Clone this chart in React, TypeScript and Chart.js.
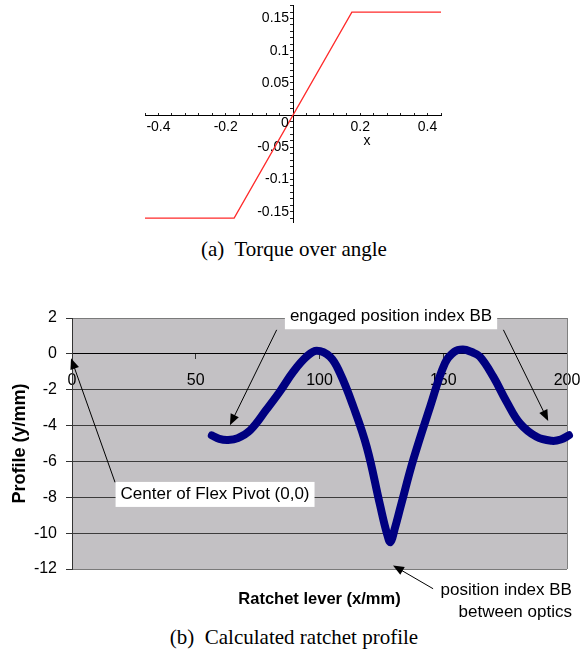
import React, { useEffect, useRef } from 'react';
import { Chart, registerables } from 'chart.js';

Chart.register(...registerables);

// ---------- (a) Torque over angle ----------
const torqueAngle = [-0.44, -0.175, 0.175, 0.44];
const torqueValue = [-0.16, -0.16, 0.16, 0.16];

// ---------- (b) Calculated ratchet profile ----------
const profileX = [56.5, 59.5, 63, 67, 72, 78.6, 84, 89.4, 94.8, 98.9, 104.2, 108.3, 113.7, 119.1, 124.4, 127.2, 128.7, 130.3, 133, 137.9, 144.7, 150.7, 154.5, 158, 161.5, 164.8, 170.2, 175.6, 181, 187.7, 193.8, 197.5, 200.8];
const profileY = [-4.55, -4.74, -4.8, -4.7, -4.26, -3.1, -2.1, -1.0, -0.15, 0.18, -0.15, -1.08, -2.95, -5.2, -8.4, -10.0, -10.5, -9.8, -8.4, -5.9, -2.95, -0.52, 0.12, 0.24, 0.1, -0.15, -1.27, -2.67, -3.88, -4.63, -4.85, -4.78, -4.54];

const annotationLabels = [
  { lines: ['engaged position index BB'], x: 128.9, y: 2.07, box: true, align: 'center' },
  { lines: ['Center of Flex Pivot (0,0)'], x: 57.8, y: -7.84, box: true, align: 'center' },
  { lines: ['position index BB', 'between optics'], x: 202.0, y: -13.17, box: false, align: 'right' },
];
const annotationArrows = [
  { from: [82.7, 1.34], to: [63.8, -3.98] },
  { from: [174.3, 1.34], to: [192.4, -3.74] },
  { from: [17.4, -7.17], to: [-0.4, -0.24] },
  { from: [145.9, -13.1], to: [129.7, -11.8] },
];

const SANS = '"Liberation Sans", Arial, Helvetica, sans-serif';
const SERIF = '"Liberation Serif", "Times New Roman", serif';
const PLOT_BG = '#c3c1c4';

Chart.defaults.font.family = SANS;

const zeroPad = (s: any) => {
  s.paddingTop = 0;
  s.paddingBottom = 0;
  s.paddingLeft = 0;
  s.paddingRight = 0;
};

const fmt = (v: number) => String(Math.round(v * 100) / 100);

const torqueExtras = {
  id: 'torqueExtras',
  afterDraw(chart: any) {
    const { ctx, scales } = chart;
    const x = scales.x;
    const y = scales.y;
    const ox = x.getPixelForValue(0);
    const oy = y.getPixelForValue(0);
    ctx.save();
    ctx.fillStyle = '#000';
    ctx.font = `14px ${SANS}`;
    ctx.textAlign = 'center';
    ctx.textBaseline = 'middle';
    ctx.fillText('0', ox - 8, oy + 8);
    ctx.fillText('x', x.getPixelForValue(0.22), oy + 26);
    ctx.restore();
  },
};

function drawArrow(ctx: CanvasRenderingContext2D, x1: number, y1: number, x2: number, y2: number) {
  const ang = Math.atan2(y2 - y1, x2 - x1);
  const L = 11;
  const W = 4.5;
  const c = Math.cos(ang);
  const s = Math.sin(ang);
  ctx.beginPath();
  ctx.moveTo(x1, y1);
  ctx.lineTo(x2 - c * 6, y2 - s * 6);
  ctx.stroke();
  ctx.beginPath();
  ctx.moveTo(x2, y2);
  ctx.lineTo(x2 - L * c + W * s, y2 - L * s - W * c);
  ctx.lineTo(x2 - L * c - W * s, y2 - L * s + W * c);
  ctx.closePath();
  ctx.fill();
}

const profileExtras = {
  id: 'profileExtras',
  beforeDraw(chart: any) {
    const { ctx, chartArea: a } = chart;
    ctx.save();
    ctx.fillStyle = PLOT_BG;
    ctx.fillRect(a.left, a.top, a.right - a.left, a.bottom - a.top);
    ctx.restore();
  },
  beforeDatasetsDraw(chart: any) {
    const { ctx, chartArea: a } = chart;
    ctx.save();
    ctx.strokeStyle = '#808080';
    ctx.lineWidth = 1;
    ctx.beginPath();
    ctx.moveTo(Math.round(a.right) + 0.5, a.top);
    ctx.lineTo(Math.round(a.right) + 0.5, a.bottom);
    ctx.stroke();
    ctx.restore();
  },
  afterDraw(chart: any) {
    const { ctx, chartArea: a, scales } = chart;
    const x = scales.x;
    const y = scales.y;
    ctx.save();
    // x axis title
    ctx.fillStyle = '#000';
    ctx.font = `bold 16.5px ${SANS}`;
    ctx.textAlign = 'center';
    ctx.textBaseline = 'middle';
    ctx.fillText('Ratchet lever (x/mm)', (a.left + a.right) / 2, y.getPixelForValue(0) + 246);

    // arrows
    ctx.strokeStyle = '#000';
    ctx.fillStyle = '#000';
    ctx.lineWidth = 1;
    annotationArrows.forEach((ar) => {
      drawArrow(
        ctx,
        x.getPixelForValue(ar.from[0]),
        y.getPixelForValue(ar.from[1]),
        x.getPixelForValue(ar.to[0]),
        y.getPixelForValue(ar.to[1])
      );
    });

    // labels
    ctx.font = `17px ${SANS}`;
    ctx.textBaseline = 'middle';
    annotationLabels.forEach((lb) => {
      const px = x.getPixelForValue(lb.x);
      const py = y.getPixelForValue(lb.y);
      const lh = 22;
      ctx.textAlign = lb.align as CanvasTextAlign;
      if (lb.box) {
        const w = Math.max(...lb.lines.map((t) => ctx.measureText(t).width)) + 10;
        const h = lb.lines.length * lh + 3;
        ctx.fillStyle = '#fff';
        const left = lb.align === 'center' ? px - w / 2 : px - w + 5;
        ctx.fillRect(left, py - 12.5, w, h);
      }
      ctx.fillStyle = '#000';
      lb.lines.forEach((t, i) => ctx.fillText(t, px, py + i * lh));
    });
    ctx.restore();
  },
};

export default function App() {
  const topRef = useRef<HTMLCanvasElement>(null);
  const botRef = useRef<HTMLCanvasElement>(null);

  useEffect(() => {
    const top = new Chart(topRef.current as HTMLCanvasElement, {
      type: 'line',
      data: {
        datasets: [
          {
            data: torqueAngle.map((a, i) => ({ x: a, y: torqueValue[i] })),
            borderColor: '#ff2a2a',
            borderWidth: 1.3,
            pointRadius: 0,
            tension: 0,
            fill: false,
          },
        ],
      },
      options: {
        animation: false,
        responsive: false,
        devicePixelRatio: 1,
        layout: { padding: { left: 15, right: 19, top: 5, bottom: 13 } },
        plugins: { legend: { display: false }, tooltip: { enabled: false } },
        scales: {
          x: {
            type: 'linear',
            min: -0.44,
            max: 0.44,
            position: { y: 0 },
            afterFit: zeroPad,
            border: { display: true, color: '#000', width: 1 },
            grid: { drawOnChartArea: false, drawTicks: true, tickLength: -3, tickColor: '#222' },
            ticks: {
              stepSize: 0.04,
              autoSkip: false,
              maxRotation: 0,
              includeBounds: false,
              padding: 7,
              color: '#000',
              font: { size: 14 },
              callback: (v: any) => {
                const k = Math.round(Number(v) * 100);
                return k % 20 === 0 && k !== 0 ? fmt(Number(v)) : '';
              },
            },
          },
          y: {
            type: 'linear',
            min: -0.166,
            max: 0.171,
            position: { x: 0 },
            afterFit: zeroPad,
            border: { display: true, color: '#000', width: 1 },
            grid: { drawOnChartArea: false, drawTicks: true, tickLength: 3, tickColor: '#222' },
            ticks: {
              stepSize: 0.01,
              autoSkip: false,
              includeBounds: false,
              padding: 1,
              color: '#000',
              font: { size: 14 },
              callback: (v: any) => {
                const k = Math.round(Number(v) * 100);
                return k % 5 === 0 && k !== 0 ? fmt(Number(v)) + ' ' : '';
              },
            },
          },
        },
      } as any,
      plugins: [torqueExtras],
    } as any);

    const bottom = new Chart(botRef.current as HTMLCanvasElement, {
      type: 'line',
      data: {
        datasets: [
          {
            data: profileX.map((px, i) => ({ x: px, y: profileY[i] })),
            borderColor: '#000080',
            borderWidth: 8,
            pointRadius: 0,
            tension: 0.4,
            borderCapStyle: 'round',
            borderJoinStyle: 'round',
            fill: false,
            clip: false,
          },
        ],
      },
      options: {
        animation: false,
        responsive: false,
        devicePixelRatio: 1,
        layout: { padding: { left: 0, right: 15, top: 23, bottom: 56 } },
        plugins: { legend: { display: false }, tooltip: { enabled: false } },
        scales: {
          x: {
            type: 'linear',
            min: 0,
            max: 200,
            position: { y: 0 },
            afterFit: zeroPad,
            border: { display: true, color: '#000', width: 1 },
            grid: { drawOnChartArea: false, drawTicks: true, tickLength: 5, tickColor: '#333' },
            ticks: {
              stepSize: 50,
              autoSkip: false,
              maxRotation: 0,
              padding: 12,
              color: '#000',
              font: { size: 16 },
            },
          },
          y: {
            type: 'linear',
            min: -12,
            max: 2,
            position: 'left',
            afterFit: (s: any) => {
              s.width = 72;
            },
            border: { display: true, color: '#333', width: 1 },
            grid: {
              color: (c: any) => (c.tick && (c.tick.value === 2 || c.tick.value === -12) ? '#7a7a7a' : '#3c3c3c'),
              tickColor: '#333',
              drawTicks: true,
              tickLength: 6,
              lineWidth: 1,
            },
            ticks: {
              stepSize: 2,
              padding: 9,
              color: '#000',
              font: { size: 16 },
            },
            title: {
              display: true,
              text: 'Profile (y/mm)',
              color: '#000',
              font: { size: 18, weight: 'bold' },
              padding: { top: 9, bottom: 0 },
            },
          },
        },
      } as any,
      plugins: [profileExtras],
    } as any);

    return () => {
      top.destroy();
      bottom.destroy();
    };
  }, []);

  return (
    <div
      style={{
        position: 'absolute',
        left: 0,
        top: 0,
        width: 582,
        height: 661,
        background: '#fff',
        overflow: 'hidden',
      }}
    >
      <canvas
        ref={topRef}
        width={330}
        height={235}
        style={{ position: 'absolute', left: 130, top: 0, width: 330, height: 235 }}
      />
      <div
        style={{
          position: 'absolute',
          left: 0,
          top: 239,
          width: 588,
          textAlign: 'center',
          font: `21px ${SERIF}`,
          lineHeight: '21px',
          whiteSpace: 'pre',
          color: '#000',
        }}
      >
        {'(a)  Torque over angle'}
      </div>
      <canvas
        ref={botRef}
        width={582}
        height={330}
        style={{ position: 'absolute', left: 0, top: 295, width: 582, height: 330 }}
      />
      <div
        style={{
          position: 'absolute',
          left: 0,
          top: 627,
          width: 588,
          textAlign: 'center',
          font: `21px ${SERIF}`,
          lineHeight: '21px',
          whiteSpace: 'pre',
          color: '#000',
        }}
      >
        {'(b)  Calculated ratchet profile'}
      </div>
    </div>
  );
}
